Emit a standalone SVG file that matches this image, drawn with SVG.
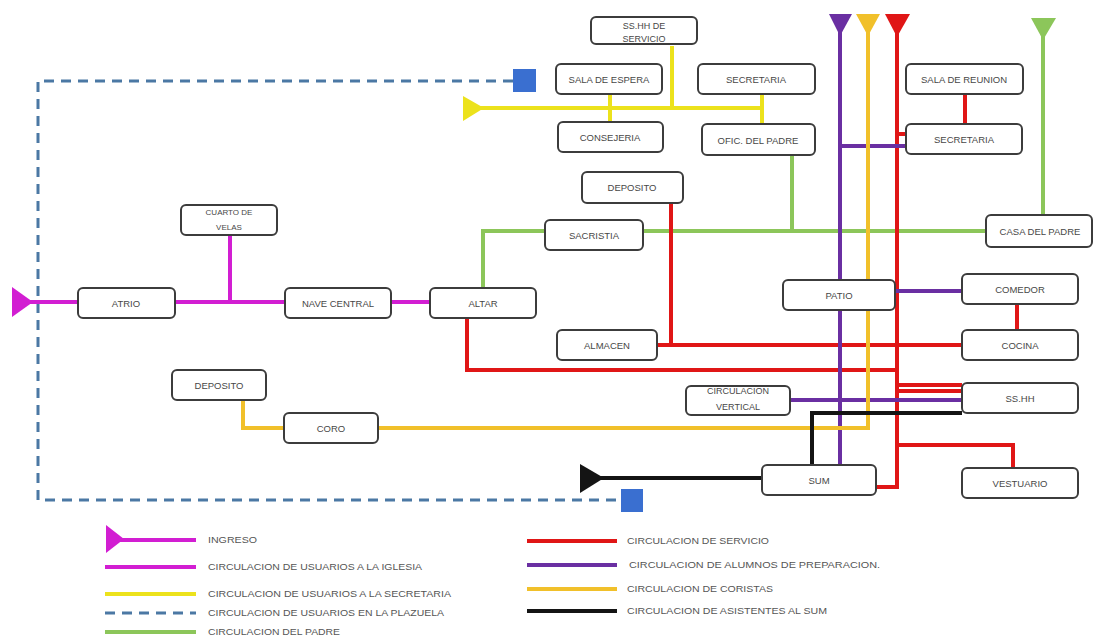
<svg xmlns="http://www.w3.org/2000/svg" width="1094" height="637" viewBox="0 0 1094 637">
<style>
.box{fill:#fff;stroke:#3c3c3c;stroke-width:2}
.lbl{font-family:"Liberation Sans",Arial,sans-serif;font-size:9.5px;fill:#474747;text-anchor:middle;dominant-baseline:central}
.sm{font-size:8px}
.md{font-size:9px}
.leg{font-family:"Liberation Sans",Arial,sans-serif;font-size:8.5px;fill:#555;dominant-baseline:central}
.c{fill:none;stroke-width:4;stroke-linecap:butt;stroke-linejoin:miter}
.mag{stroke:#d21ed2}.yel{stroke:#ece21c}.grn{stroke:#8cc65a}.pur{stroke:#6a2fa2}.org{stroke:#f1c02a}.red{stroke:#e01616}.blk{stroke:#141414}
.dash{fill:none;stroke:#4b78a4;stroke-width:3;stroke-dasharray:10 7}
</style>
<rect width="1094" height="637" fill="#fff"/>
<g id="connectors">
  <path class="dash" d="M513,81 H38 V500 H621"/>
  <rect x="513" y="69" width="23" height="23" fill="#3a6fd0"/>
  <rect x="621" y="489" width="22" height="23" fill="#3a6fd0"/>
  <polygon points="12,287 12,317 33,302" fill="#d21ed2"/>
  <path class="c mag" d="M12,302 H78 M175,302 H285 M230,235 V302 M392,302 H430"/>
  <polygon points="463,96 463,121 484,108" fill="#ece21c"/>
  <path class="c yel" d="M463,108 H762 M610,95 V122 M672,46 V108 M762,95 V124"/>
  <polygon points="1031,18 1056,18 1043,40" fill="#8cc65a"/>
  <path class="c grn" d="M1043,18 V215 M643,231 H986 M483,288 V231 H545 M792,155 V231"/>
  <polygon points="885,14 910,14 897,37" fill="#e01616"/>
  <path class="c red" d="M897,14 V489 M897,134 H906 M965,95 V124 M671,203 V345 M657,345 H962 M467,318 V370 H897 M1017,304 V330 M897,385 H962 M897,391 H962 M897,445 H1013 V468 M876,487 H899"/>
  <polygon points="829,14 852,14 840,36" fill="#6a2fa2"/>
  <path class="c pur" d="M840,14 V280 M840,310 V465 M840,146 H906 M895,291 H962 M790,400 H962"/>
  <polygon points="856,14 880,14 868,36" fill="#f1c02a"/>
  <path class="c org" d="M868,14 V280 M868,310 V428 H378 M243,400 V428 H284"/>
  <polygon points="580,464 580,493 604,478" fill="#141414"/>
  <path class="c blk" d="M580,478 H762 M812,465 V413 H962"/>
</g>
<g id="n-sshh-servicio"><rect class="box" x="591" y="17" width="106" height="27" rx="5"/><text class="lbl md" x="644" y="26">SS.HH DE</text><text class="lbl md" x="644" y="39">SERVICIO</text></g>
<g id="n-sala-espera"><rect class="box" x="556" y="64" width="106" height="30" rx="5"/><text class="lbl" x="609" y="79">SALA DE ESPERA</text></g>
<g id="n-secretaria-1"><rect class="box" x="698" y="64" width="117" height="30" rx="5"/><text class="lbl" x="756" y="79">SECRETARIA</text></g>
<g id="n-consejeria"><rect class="box" x="558" y="122" width="105" height="30" rx="5"/><text class="lbl" x="610" y="137">CONSEJERIA</text></g>
<g id="n-ofic-padre"><rect class="box" x="702" y="124" width="113" height="31" rx="5"/><text class="lbl" x="758" y="140">OFIC. DEL PADRE</text></g>
<g id="n-sala-reunion"><rect class="box" x="906" y="64" width="117" height="30" rx="5"/><text class="lbl" x="964" y="79">SALA DE REUNION</text></g>
<g id="n-secretaria-2"><rect class="box" x="906" y="124" width="116" height="30" rx="5"/><text class="lbl" x="964" y="139">SECRETARIA</text></g>
<g id="n-deposito-1"><rect class="box" x="582" y="172" width="101" height="31" rx="5"/><text class="lbl" x="632" y="187">DEPOSITO</text></g>
<g id="n-sacristia"><rect class="box" x="545" y="220" width="98" height="30" rx="5"/><text class="lbl" x="594" y="235">SACRISTIA</text></g>
<g id="n-casa-padre"><rect class="box" x="986" y="215" width="106" height="32" rx="5"/><text class="lbl" x="1040" y="231">CASA DEL PADRE</text></g>
<g id="n-cuarto-velas"><rect class="box" x="181" y="205" width="96" height="30" rx="5"/><text class="lbl sm" x="229" y="212">CUARTO DE</text><text class="lbl sm" x="229" y="227">VELAS</text></g>
<g id="n-atrio"><rect class="box" x="78" y="288" width="97" height="30" rx="5"/><text class="lbl" x="126" y="303">ATRIO</text></g>
<g id="n-nave"><rect class="box" x="285" y="288" width="106" height="30" rx="5"/><text class="lbl" x="338" y="303">NAVE CENTRAL</text></g>
<g id="n-altar"><rect class="box" x="430" y="288" width="106" height="30" rx="5"/><text class="lbl" x="483" y="303">ALTAR</text></g>
<g id="n-patio"><rect class="box" x="783" y="280" width="112" height="30" rx="5"/><text class="lbl" x="839" y="295">PATIO</text></g>
<g id="n-comedor"><rect class="box" x="962" y="274" width="116" height="30" rx="5"/><text class="lbl" x="1020" y="289">COMEDOR</text></g>
<g id="n-almacen"><rect class="box" x="557" y="330" width="100" height="30" rx="5"/><text class="lbl" x="607" y="345">ALMACEN</text></g>
<g id="n-cocina"><rect class="box" x="962" y="330" width="116" height="30" rx="5"/><text class="lbl" x="1020" y="345">COCINA</text></g>
<g id="n-deposito-2"><rect class="box" x="172" y="370" width="94" height="30" rx="5"/><text class="lbl" x="219" y="385">DEPOSITO</text></g>
<g id="n-coro"><rect class="box" x="284" y="413" width="94" height="30" rx="5"/><text class="lbl" x="331" y="428">CORO</text></g>
<g id="n-circ-vertical"><rect class="box" x="686" y="386" width="104" height="29" rx="5"/><text class="lbl md" x="738" y="391">CIRCULACION</text><text class="lbl md" x="738" y="407">VERTICAL</text></g>
<g id="n-sshh"><rect class="box" x="962" y="383" width="116" height="30" rx="5"/><text class="lbl" x="1020" y="398">SS.HH</text></g>
<g id="n-sum"><rect class="box" x="762" y="465" width="114" height="30" rx="5"/><text class="lbl" x="819" y="480">SUM</text></g>
<g id="n-vestuario"><rect class="box" x="962" y="468" width="116" height="30" rx="5"/><text class="lbl" x="1020" y="483">VESTUARIO</text></g>
<g id="legend">
  <polygon points="106,525 106,553 124,539" fill="#d21ed2"/>
  <path class="c mag" d="M106,540 H196 M105,567 H196"/>
  <path class="c yel" d="M105,594 H196"/>
  <path class="dash" d="M105,613 H196" stroke-dasharray="15 10"/>
  <path class="c grn" d="M105,632 H196"/>
  <path class="c red" d="M527,541 H617"/>
  <path class="c pur" d="M527,565 H617"/>
  <path class="c org" d="M527,589 H617"/>
  <path class="c blk" d="M527,611 H617"/>
  <text class="leg" x="208" y="540" textLength="49" lengthAdjust="spacingAndGlyphs">INGRESO</text>
  <text class="leg" x="208" y="567" textLength="214" lengthAdjust="spacingAndGlyphs">CIRCULACION DE USUARIOS A LA IGLESIA</text>
  <text class="leg" x="208" y="594" textLength="243" lengthAdjust="spacingAndGlyphs">CIRCULACION DE USUARIOS A LA SECRETARIA</text>
  <text class="leg" x="208" y="613" textLength="236" lengthAdjust="spacingAndGlyphs">CIRCULACION DE USUARIOS EN LA PLAZUELA</text>
  <text class="leg" x="208" y="632" textLength="132" lengthAdjust="spacingAndGlyphs">CIRCULACION DEL PADRE</text>
  <text class="leg" x="627" y="541" textLength="142" lengthAdjust="spacingAndGlyphs">CIRCULACION DE SERVICIO</text>
  <text class="leg" x="629" y="565" textLength="251" lengthAdjust="spacingAndGlyphs">CIRCULACION DE ALUMNOS DE PREPARACION.</text>
  <text class="leg" x="627" y="589" textLength="146" lengthAdjust="spacingAndGlyphs">CIRCULACION DE CORISTAS</text>
  <text class="leg" x="627" y="611" textLength="200" lengthAdjust="spacingAndGlyphs">CIRCULACION DE ASISTENTES AL SUM</text>
</g>
</svg>
